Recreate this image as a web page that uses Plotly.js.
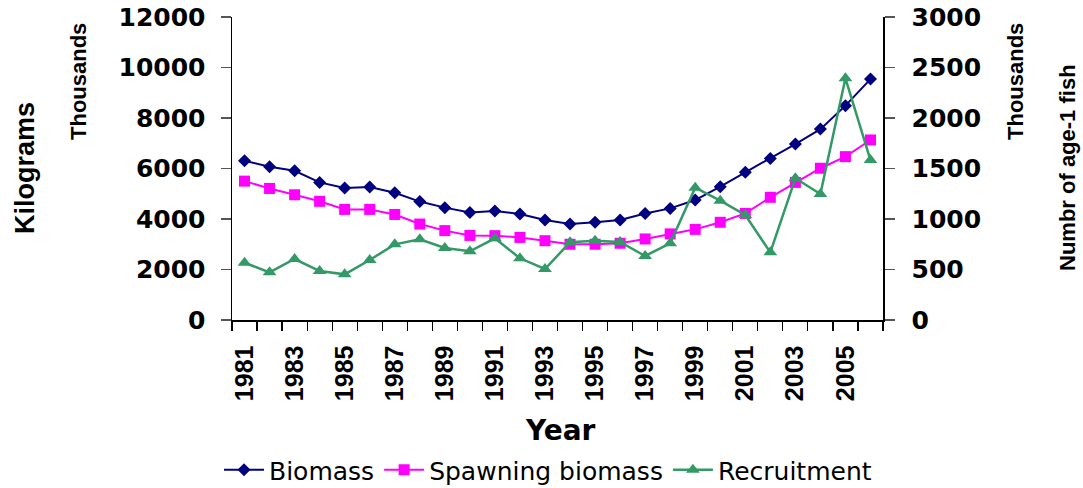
<!DOCTYPE html>
<html>
<head>
<meta charset="utf-8">
<script src="https://cdn.plot.ly/plotly-3.0.1.min.js"></script>
<style>
html,body{margin:0;padding:0;background:#fff;}
#chart{width:1083px;height:488px;}
</style>
</head>
<body>
<div id="chart"></div>
<script>
const years = [1981,1982,1983,1984,1985,1986,1987,1988,1989,1990,1991,1992,1993,1994,1995,1996,1997,1998,1999,2000,2001,2002,2003,2004,2005,2006];
const biomass = [6310,6070,5910,5450,5230,5270,5040,4690,4450,4260,4320,4200,3960,3800,3870,3960,4220,4420,4750,5280,5850,6400,6970,7560,8490,9540];
const spawningBiomass = [5500,5210,4960,4700,4380,4380,4180,3800,3540,3350,3340,3270,3140,3000,3000,3040,3210,3410,3590,3870,4220,4860,5450,6010,6470,7130];
const recruitment = [567,472,604,485,452,594,749,799,713,680,809,611,505,769,785,772,634,759,1310,1181,1040,670,1403,1247,2393,1584];
const labeledYears = [1981,1983,1985,1987,1989,1991,1993,1995,1997,1999,2001,2003,2005];

const AR = '"Liberation Sans", Arial, sans-serif';
const DV = '"DejaVu Sans", sans-serif';

const traces = [
  {x: years, y: biomass, name: 'Biomass', type: 'scatter', mode: 'lines+markers',
   line: {color: '#000080', width: 2}, marker: {symbol: 'diamond', size: 10, color: '#000080'}},
  {x: years, y: spawningBiomass, name: 'Spawning biomass', type: 'scatter', mode: 'lines+markers',
   line: {color: '#FF00FF', width: 2}, marker: {symbol: 'square', size: 11, color: '#FF00FF'}},
  {x: years, y: recruitment, name: 'Recruitment', type: 'scatter', mode: 'lines+markers', yaxis: 'y2',
   line: {color: '#339966', width: 2.5}, marker: {symbol: 'triangle-up', size: 12, color: '#339966'}}
];

const layout = {
  width: 1083, height: 488,
  margin: {l: 232, r: 200, t: 17, b: 168, autoexpand: false},
  paper_bgcolor: '#ffffff', plot_bgcolor: '#ffffff',
  showlegend: true,
  legend: {orientation: 'h', x: (219-232)/651, xanchor: 'left', y: (320-470)/303, yanchor: 'middle',
           font: {family: DV, size: 25, color: '#000'}, itemwidth: 40, tracegroupgap: 0},
  xaxis: {
    range: [1980.5, 2006.5], showgrid: false, zeroline: false, automargin: false,
    showline: true, linecolor: '#000', linewidth: 1.5,
    tickmode: 'array', tickvals: labeledYears, ticktext: labeledYears.map(String),
    ticks: '', tickangle: -90, ticklabelstandoff: 14,
    tickfont: {family: AR, size: 25, color: '#000', weight: 'bold'},
    minor: {tick0: 1980.5, dtick: 1, ticks: 'outside', ticklen: 9, tickcolor: '#000', tickwidth: 1.2, showgrid: false}
  },
  yaxis: {
    range: [0, 12000], dtick: 2000, showgrid: false, zeroline: false, automargin: false,
    showline: true, linecolor: '#000', linewidth: 1.5, tickformat: 'd', ticklabelstandoff: 10,
    ticks: 'outside', ticklen: 10, tickcolor: '#555', tickwidth: 1.2,
    tickfont: {family: DV, size: 25, color: '#000', weight: 'bold'}
  },
  yaxis2: {
    range: [0, 3000], dtick: 500, overlaying: 'y', side: 'right', showgrid: false, zeroline: false, automargin: false,
    showline: true, linecolor: '#000', linewidth: 1.5, tickformat: 'd', ticklabelstandoff: 12,
    ticks: 'outside', ticklen: 10, tickcolor: '#555', tickwidth: 1.2,
    tickfont: {family: DV, size: 25, color: '#000', weight: 'bold'}
  },
  annotations: [
    {text: 'Kilograms', xref: 'paper', yref: 'paper', x: (25-232)/651, y: (320-168)/303, textangle: -90,
     showarrow: false, xanchor: 'center', yanchor: 'middle', font: {family: AR, size: 27, color: '#000', weight: 'bold'}},
    {text: 'Thousands', xref: 'paper', yref: 'paper', x: (78-232)/651, y: (320-82)/303, textangle: -90,
     showarrow: false, xanchor: 'center', yanchor: 'middle', font: {family: AR, size: 22, color: '#000', weight: 'bold'}},
    {text: 'Thousands', xref: 'paper', yref: 'paper', x: (1015-232)/651, y: (320-82)/303, textangle: -90,
     showarrow: false, xanchor: 'center', yanchor: 'middle', font: {family: AR, size: 22, color: '#000', weight: 'bold'}},
    {text: 'Numbr of age-1 fish', xref: 'paper', yref: 'paper', x: (1067-232)/651, y: (320-168)/303, textangle: -90,
     showarrow: false, xanchor: 'center', yanchor: 'middle', font: {family: AR, size: 22, color: '#000', weight: 'bold'}},
    {text: 'Year', xref: 'paper', yref: 'paper', x: (560-232)/651, y: (320-430)/303,
     showarrow: false, xanchor: 'center', yanchor: 'middle', font: {family: DV, size: 28, color: '#000', weight: 'bold'}}
  ]
};

Plotly.newPlot('chart', traces, layout, {displayModeBar: false, staticPlot: true});
</script>
</body>
</html>
